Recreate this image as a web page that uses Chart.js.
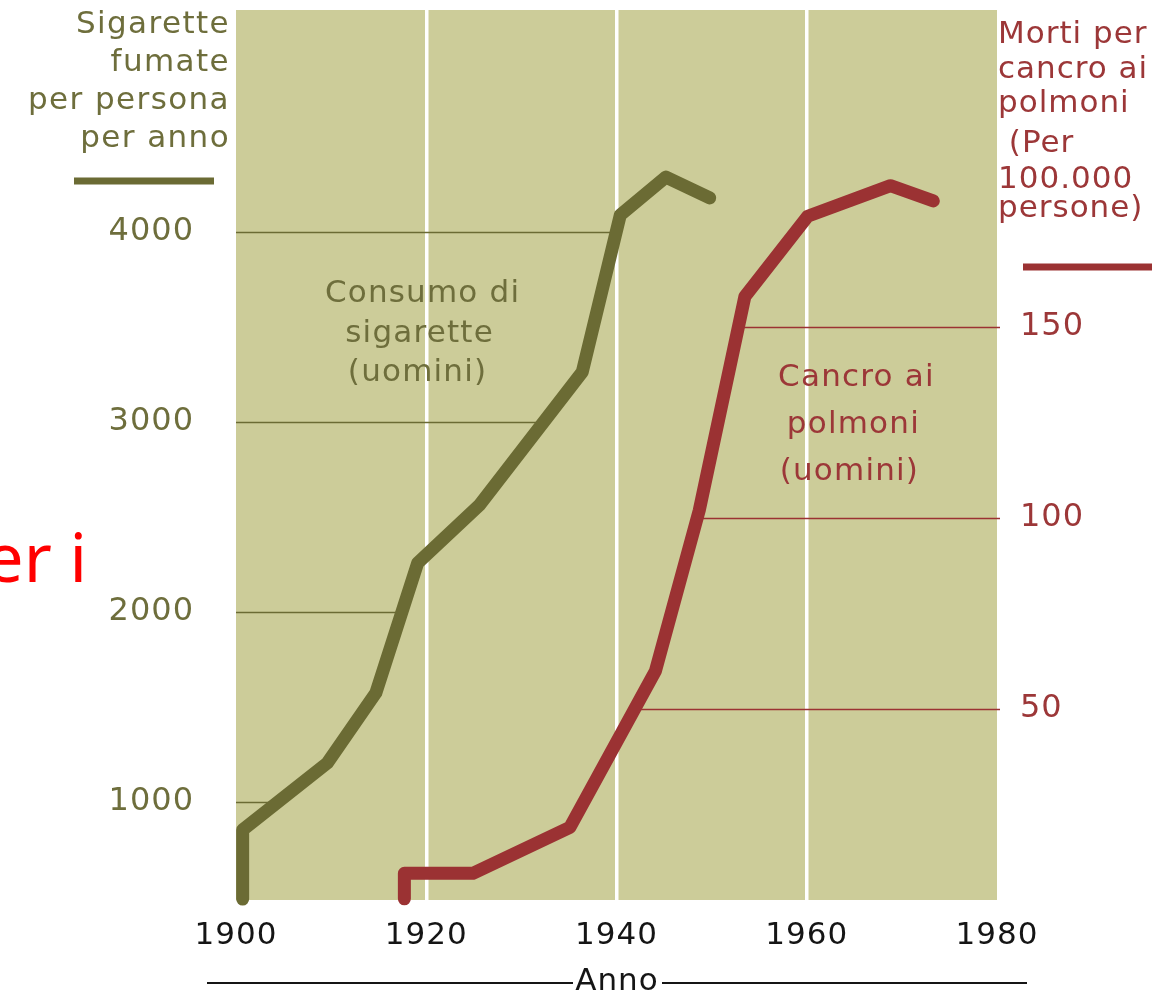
<!DOCTYPE html>
<html>
<head>
<meta charset="utf-8">
<title>Consumo di sigarette e cancro ai polmoni</title>
<script src="https://cdn.jsdelivr.net/npm/chart.js@4.4.1/dist/chart.umd.min.js"></script>
<style>
  html, body { margin: 0; padding: 0; background: #fff; }
  canvas { display: block; }
</style>
</head>
<body>
<canvas id="chart" width="1157" height="993"></canvas>
<script>
// valori
var cigYears = [1900.7, 1900.7, 1909.6, 1914.7, 1919.1, 1925.6, 1936.4, 1940.4, 1945.2, 1949.8];
var cigValues = [489, 853, 1205, 1574, 2258, 2563, 3263, 4089, 4289, 4179];
var cancerYears = [1917.7, 1917.7, 1924.9, 1935.1, 1944.1, 1948.7, 1953.5, 1960.1, 1968.8, 1973.3];
var cancerValues = [0.3, 7, 7, 19, 60, 102, 158, 179, 187, 183];
var yearTicks = [1900, 1920, 1940, 1960, 1980];
var cigTicks = [1000, 2000, 3000, 4000];
var cancerTicks = [50, 100, 150];

var OLIVE = '#6b6b34';
var OLIVE_TXT = '#6e6e3c';
var RED = '#9b3233';
var RED_TXT = '#9c3738';
var FONT = '"DejaVu Sans"';

function points(xs, ys) {
  return xs.map(function(x, i) { return {x: x, y: ys[i]}; });
}

// primo punto in cui la serie attraversa il valore v
function crossing(xs, ys, v) {
  for (let i = 0; i < ys.length - 1; i++) {
    if ((ys[i] - v) * (ys[i + 1] - v) <= 0 && ys[i] !== ys[i + 1]) {
      return xs[i] + (v - ys[i]) / (ys[i + 1] - ys[i]) * (xs[i + 1] - xs[i]);
    }
  }
  return null;
}

var decorPlugin = {
  id: 'decor',
  beforeDraw: function(chart) {
    var ctx = chart.ctx, a = chart.chartArea;
    ctx.letterSpacing = '1px';
    ctx.fillStyle = '#cccc99';
    ctx.fillRect(a.left, a.top, a.right - a.left, a.bottom - a.top);
  },
  beforeDatasetsDraw: function(chart) {
    var ctx = chart.ctx, a = chart.chartArea;
    var xs = chart.scales.x, yl = chart.scales.yCig, yr = chart.scales.yCancer;
    ctx.save();
    ctx.lineWidth = 1.5;
    // linee di riferimento sinistre, fino alla curva
    ctx.strokeStyle = OLIVE;
    cigTicks.forEach(function(v) {
      var cx = crossing(cigYears, cigValues, v);
      if (cx === null) return;
      var py = Math.round(yl.getPixelForValue(v)) + 0.5;
      ctx.beginPath();
      ctx.moveTo(a.left, py);
      ctx.lineTo(xs.getPixelForValue(cx), py);
      ctx.stroke();
    });
    // linee di riferimento destre
    ctx.strokeStyle = RED;
    cancerTicks.forEach(function(v) {
      var cx = crossing(cancerYears, cancerValues, v);
      if (cx === null) return;
      var py = Math.round(yr.getPixelForValue(v)) + 0.5;
      ctx.beginPath();
      ctx.moveTo(xs.getPixelForValue(cx), py);
      ctx.lineTo(a.right + 3, py);
      ctx.stroke();
    });

    // etichette interne
    ctx.letterSpacing = '1.2px';
    ctx.font = '31px ' + FONT;
    ctx.textAlign = 'center';
    ctx.textBaseline = 'alphabetic';
    ctx.fillStyle = OLIVE_TXT;
    var cx1 = xs.getPixelForValue(1919.3);
    ctx.fillText('Consumo di', cx1 + 3, 302);
    ctx.fillText('sigarette', cx1, 342);
    ctx.fillText('(uomini)', cx1 - 2, 381);
    ctx.fillStyle = RED_TXT;
    var cx2 = xs.getPixelForValue(1964.8);
    ctx.fillText('Cancro ai', cx2 + 4, 386);
    ctx.fillText('polmoni', cx2 + 1, 433);
    ctx.fillText('(uomini)', cx2 - 3, 480);
    ctx.restore();
  },
  afterDraw: function(chart) {
    var ctx = chart.ctx, a = chart.chartArea;
    ctx.save();
    ctx.letterSpacing = '1.4px';
    ctx.font = '31px ' + FONT;
    ctx.textBaseline = 'alphabetic';

    // titolo asse sinistro
    ctx.fillStyle = OLIVE_TXT;
    ctx.textAlign = 'right';
    ['Sigarette', 'fumate', 'per persona', 'per anno'].forEach(function(t, i) {
      ctx.fillText(t, 230, 33 + i * 38);
    });
    ctx.strokeStyle = OLIVE;
    ctx.lineWidth = 7;
    ctx.beginPath();
    ctx.moveTo(74, 181);
    ctx.lineTo(214, 181);
    ctx.stroke();

    // titolo asse destro
    ctx.letterSpacing = '1px';
    ctx.fillStyle = RED_TXT;
    ctx.textAlign = 'left';
    var rt = [['Morti per', 43], ['cancro ai', 78], ['polmoni', 112],
              [' (Per', 152], ['100.000', 188], ['persone)', 217]];
    rt.forEach(function(r) { ctx.fillText(r[0], a.right + 1, r[1]); });
    ctx.strokeStyle = RED;
    ctx.lineWidth = 7;
    ctx.beginPath();
    ctx.moveTo(1023, 267);
    ctx.lineTo(1152, 267);
    ctx.stroke();

    // titolo asse x
    ctx.fillStyle = '#151515';
    ctx.textAlign = 'center';
    ctx.fillText('Anno', 617, 990);
    ctx.strokeStyle = '#151515';
    ctx.lineWidth = 2;
    ctx.beginPath();
    ctx.moveTo(207, 983);
    ctx.lineTo(573, 983);
    ctx.moveTo(662, 983);
    ctx.lineTo(1027, 983);
    ctx.stroke();

    // frammento di testo della diapositiva
    ctx.letterSpacing = '0px';
    ctx.fillStyle = '#ff0000';
    ctx.textAlign = 'right';
    ctx.font = '68px "Noto Sans"';
    ctx.fillText('er i', 87, 582);
    ctx.restore();
  }
};

var ctx = document.getElementById('chart');
var chart = new Chart(ctx, {
  type: 'line',
  data: {
    datasets: [{
      label: 'Consumo di sigarette (uomini)',
      data: points(cigYears, cigValues),
      yAxisID: 'yCig',
      borderColor: OLIVE,
      borderWidth: 13,
      borderCapStyle: 'round',
      borderJoinStyle: 'round',
      pointRadius: 0,
      tension: 0,
      clip: false
    }, {
      label: 'Cancro ai polmoni (uomini)',
      data: points(cancerYears, cancerValues),
      yAxisID: 'yCancer',
      borderColor: RED,
      borderWidth: 13,
      borderCapStyle: 'round',
      borderJoinStyle: 'round',
      pointRadius: 0,
      tension: 0,
      clip: false
    }]
  },
  options: {
    responsive: false,
    animation: false,
    layout: { padding: { top: 10, left: 0, right: 0, bottom: 0 } },
    plugins: {
      legend: { display: false },
      tooltip: { enabled: false }
    },
    scales: {
      x: {
        type: 'linear',
        min: 1900,
        max: 1980,
        afterBuildTicks: function(s) { s.ticks = yearTicks.map(function(v) { return {value: v}; }); },
        afterFit: function(s) { s.height = 93; s.paddingLeft = 0; s.paddingRight = 0; },
        border: { display: false },
        grid: {
          drawTicks: false,
          lineWidth: 3.5,
          color: function(c) {
            return (c.tick && c.tick.value > 1900 && c.tick.value < 1980) ? '#ffffff' : 'rgba(0,0,0,0)';
          }
        },
        ticks: {
          padding: 17,
          maxRotation: 0,
          autoSkip: false,
          color: '#151515',
          font: { family: FONT, size: 31 },
          callback: function(v) { return String(v); }
        }
      },
      yCig: {
        type: 'linear',
        position: 'left',
        min: 484,
        max: 5168,
        afterBuildTicks: function(s) { s.ticks = cigTicks.map(function(v) { return {value: v}; }); },
        afterFit: function(s) { s.width = 236; s.paddingTop = 0; s.paddingBottom = 0; },
        border: { display: false },
        grid: { display: false, drawTicks: false },
        ticks: {
          padding: 42,
          color: OLIVE_TXT,
          font: { family: FONT, size: 32 },
          callback: function(v) { return String(v); }
        }
      },
      yCancer: {
        type: 'linear',
        position: 'right',
        min: 0,
        max: 233,
        afterBuildTicks: function(s) { s.ticks = cancerTicks.map(function(v) { return {value: v}; }); },
        afterFit: function(s) { s.width = 160; s.paddingTop = 0; s.paddingBottom = 0; },
        border: { display: false },
        grid: { display: false, drawTicks: false },
        ticks: {
          padding: 23,
          color: RED_TXT,
          font: { family: FONT, size: 32 },
          callback: function(v) { return String(v); }
        }
      }
    }
  },
  plugins: [decorPlugin]
});
</script>
</body>
</html>
